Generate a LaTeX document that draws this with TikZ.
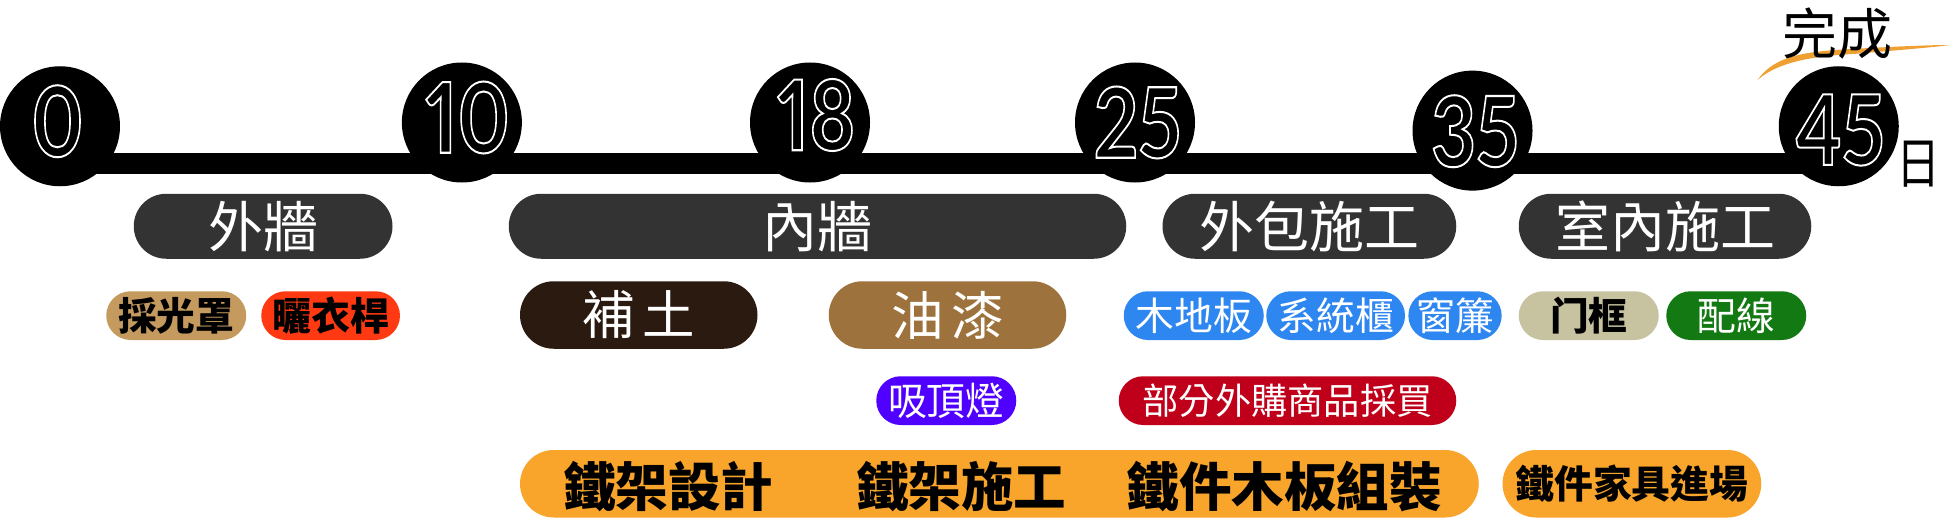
\documentclass[tikz,border=0pt]{standalone}
\usepackage{fontspec}
\usetikzlibrary{shapes.misc}
\newfontfamily\cjk{Noto Sans CJK TC}
\newfontfamily\digfont[Numbers=Proportional]{Lato}
\definecolor{catgray}{HTML}{333333}
\definecolor{tanc}{HTML}{C49A5E}
\definecolor{redc}{HTML}{FF3A12}
\definecolor{brownd}{HTML}{2B1A10}
\definecolor{brownl}{HTML}{9E723C}
\definecolor{bluec}{HTML}{2E86F0}
\definecolor{violetc}{HTML}{5000FF}
\definecolor{crimsonc}{HTML}{C0001A}
\definecolor{beigec}{HTML}{C7C3A1}
\definecolor{greenc}{HTML}{137A13}
\definecolor{orangec}{HTML}{F9A52B}
\definecolor{brushc}{HTML}{EFA032}
\newcommand{\outl}[1]{\special{pdf:literal direct 1 Tr 1.6 w}#1\special{pdf:literal direct 0 Tr}}
\begin{document}
\begin{tikzpicture}[x=1pt,y=-1pt,
  pill/.style={rounded rectangle, inner sep=0pt, minimum height=#1},
  pill/.default=39pt,
  catbar/.style={pill=52pt, fill=catgray, text=white, font=\cjk\fontsize{44}{44}\selectfont},
  small/.style={pill=39pt, font=\cjk\bfseries\fontsize{31}{31}\selectfont},
  mid/.style={pill=54pt, text=white, font=\cjk\fontsize{42}{42}\selectfont},
  dot/.style={circle, fill=black, minimum size=96pt, inner sep=0pt},
  dig/.style={text=white, inner sep=0pt, xscale=0.8, font=\digfont\bfseries\fontsize{78}{78}\selectfont},
  steel/.style={inner sep=0pt, font=\cjk\bfseries\fontsize{42}{42}\selectfont},
]
\useasboundingbox (0,0) rectangle (1560,420);

% timeline
\coordinate (ls) at (48,131);
\coordinate (le) at (1471,131);
\draw[line width=16.5pt] (ls) -- (le);
\node[dot] (c0) at (48,101) {};
\node[dot] (c10) at (369.5,98) {};
\node[dot] (c18) at (648,98) {};
\node[dot] (c25) at (908,98) {};
\node[dot] (c35) at (1178,104.5) {};
\node[dot] (c45) at (1471,101) {};
\node[dig] (d0) at (46,97) {\outl{0}};
\node[dig] (d10) at (374,94) {\outl{10}};
\node[dig] (d18) at (653,92) {\outl{18}};
\node[dig] (d25) at (910,98) {\outl{25}};
\node[dig] (d35) at (1180,105) {\outl{35}};
\node[dig] (d45) at (1472,104) {\outl{45}};
\node[inner sep=0pt, font=\cjk\fontsize{44}{44}\selectfont, xscale=0.8] (ri) at (1535,131) {日};

% finish mark
\fill[brushc] (1406,64) .. controls (1420,44) and (1445,41) .. (1485,39)
  .. controls (1520,37) and (1545,36) .. (1560,36)
  .. controls (1545,38) and (1520,40) .. (1485,43)
  .. controls (1448,45) and (1422,50) .. cycle;
\node[inner sep=0pt, font=\cjk\fontsize{44}{44}\selectfont] (done) at (1470,27) {完成};

% categories
\node[catbar, minimum width=207pt] (wq) at (210.5,181) {外牆};
\node[catbar, minimum width=494pt] (nq) at (654,181) {內牆};
\node[catbar, minimum width=235pt] (wb) at (1047.5,181) {外包施工};
\node[catbar, minimum width=234pt] (sn) at (1332,181) {室內施工};

% row 2
\node[small, fill=tanc, minimum width=112pt] (cgz) at (141,252.5) {採光罩};
\node[small, fill=redc, minimum width=111pt] (syg) at (264.5,252.5) {曬衣桿};
\node[mid, fill=brownd, minimum width=190pt] (bt) at (511,252) {補\hspace{6pt}土};
\node[mid, fill=brownl, minimum width=190pt] (yq) at (758,252) {油\hspace{6pt}漆};
\node[small, fill=bluec, text=white, font=\cjk\fontsize{31}{31}\selectfont, minimum width=112pt] (mdb) at (955,252.5) {木地板};
\node[small, fill=bluec, text=white, font=\cjk\fontsize{31}{31}\selectfont, minimum width=111pt] (xtg) at (1068.5,252.5) {系統櫃};
\node[small, fill=bluec, text=white, font=\cjk\fontsize{31}{31}\selectfont, minimum width=72pt] (cl) at (1164,252.5) {窗簾};
\node[small, fill=beigec, minimum width=112pt] (mk) at (1271,252.5) {门框};
\node[small, fill=greenc, text=white, font=\cjk\fontsize{31}{31}\selectfont, minimum width=112pt] (px) at (1389,252.5) {配線};

% row 3
\node[small, fill=violetc, text=white, font=\cjk\fontsize{31}{31}\selectfont, minimum width=112pt] (xdd) at (757,320.5) {吸頂燈};
\node[small, fill=crimsonc, text=white, font=\cjk\fontsize{29}{29}\selectfont, minimum width=270pt] (bf) at (1030,320.5) {部分外購商品採買};

% row 4
\node[pill=54pt, fill=orangec, minimum width=767pt] (steelbar) at (799.5,387) {};
\node[steel] (s1) at (534.5,389) {鐵架設計};
\node[steel] (s2) at (769,389) {鐵架施工};
\node[steel] (s3) at (1027.5,389) {鐵件木板組裝};
\node[pill=54pt, fill=orangec, minimum width=207pt, font=\cjk\bfseries\fontsize{31}{31}\selectfont] (jj) at (1305.5,387) {鐵件家具進場};
\end{tikzpicture}
\end{document}
